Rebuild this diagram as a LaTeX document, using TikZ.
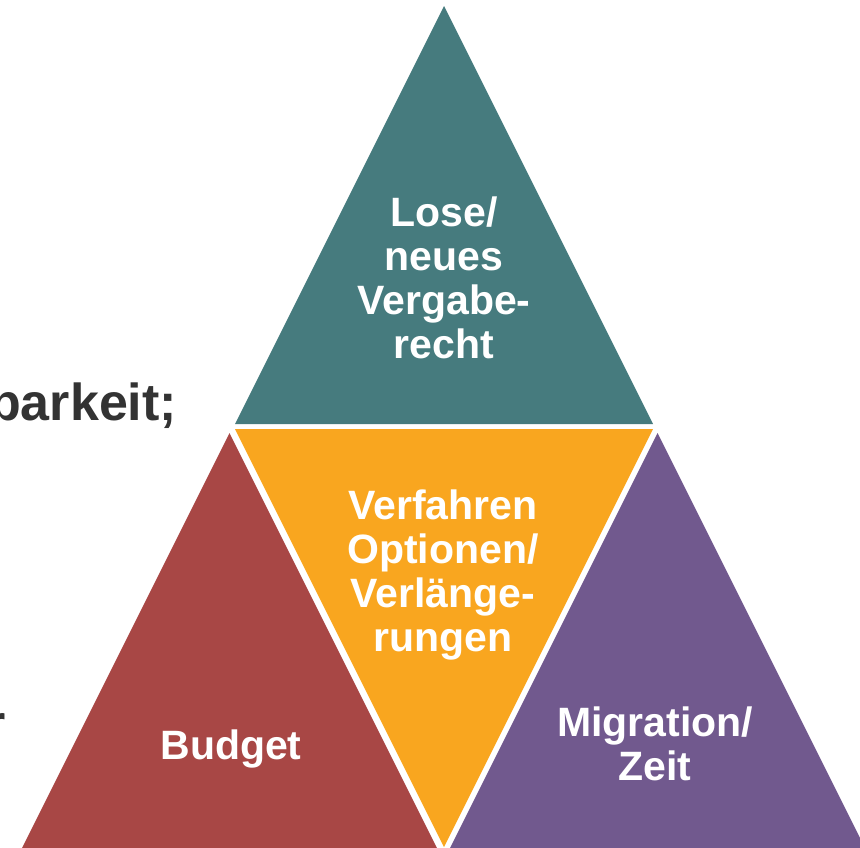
\documentclass[tikz,border=0pt]{standalone}
\usepackage{fontspec}
\setmainfont{Liberation Sans}
\definecolor{cteal}{HTML}{467B7E}
\definecolor{corange}{HTML}{F9A61F}
\definecolor{cred}{HTML}{A84745}
\definecolor{cpurple}{HTML}{71598E}
\definecolor{cdark}{HTML}{333333}
\tikzset{
  lbl/.style={text=white, align=center, inner sep=0pt,
    font=\fontsize{41}{44}\selectfont\bfseries},
  side/.style={text=cdark, inner sep=0pt, anchor=base west,
    font=\fontsize{52}{60}\selectfont\bfseries}
}
\begin{document}
\begin{tikzpicture}[x=1pt,y=-1pt]
\useasboundingbox (0,0) rectangle (860,847);
\clip (0,0) rectangle (860,847);
% triangles
\fill[cteal] (444,6) -- (235,424) -- (653,424) -- cycle;
\fill[corange] (235,429) -- (653,429) -- (444,847) -- cycle;
\fill[cred] (229.5,433) -- (20.5,851) -- (438.5,851) -- cycle;
\fill[cpurple] (657.5,433) -- (448.5,851) -- (866.5,851) -- cycle;
% labels
\node[lbl] (lose) at (444,278) {Lose/\\neues\\Vergabe-\\recht};
\node[lbl] (verf) at (443,575) {Verfahren\\Optionen/\\Verlänge-\\rungen};
\node[lbl] (budget) at (231,749) {Budget};
\node[lbl] (migr) at (655,744) {Migration/\\Zeit};
% cut-off side texts
\node[side] (t1) at (-11,420) {barkeit;};
\node[side] (t2) at (-15,741) {r};
\end{tikzpicture}
\end{document}
